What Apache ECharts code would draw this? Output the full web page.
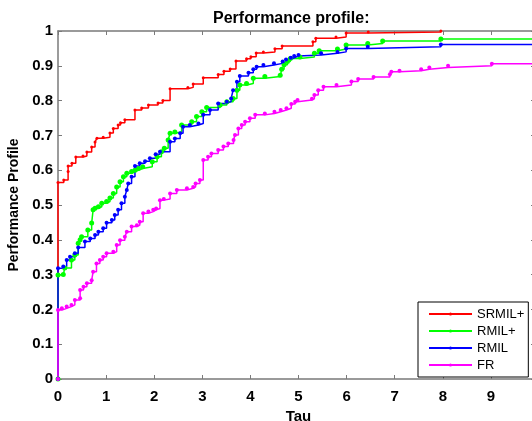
<!DOCTYPE html>
<html>
<head>
<meta charset="utf-8">
<script src="https://cdn.jsdelivr.net/npm/echarts@6/dist/echarts.min.js"></script>
<style>html,body{margin:0;padding:0;background:#fff}#c{width:532px;height:421px}</style>
</head>
<body>
<div id="c"></div>
<script>
const seriesNames = ['SRMIL+', 'RMIL+', 'RMIL', 'FR'];
const xTicks = [0, 1, 2, 3, 4, 5, 6, 7, 8, 9];
const yTicks = [0, 0.1, 0.2, 0.3, 0.4, 0.5, 0.6, 0.7, 0.8, 0.9, 1];

const srmilPlus = [[0,0],[0,0.565],[0.12,0.572],[0.21,0.596],[0.21,0.612],[0.29,0.62],[0.37,0.638],[0.52,0.641],[0.6,0.652],[0.7,0.667],[0.77,0.681],[0.81,0.692],[0.94,0.695],[1.08,0.707],[1.15,0.72],[1.25,0.73],[1.3,0.736],[1.39,0.745],[1.6,0.773],[1.74,0.779],[1.88,0.787],[2.08,0.793],[2.18,0.8],[2.33,0.834],[2.7,0.838],[2.81,0.848],[3.02,0.866],[3.33,0.875],[3.45,0.884],[3.58,0.891],[3.7,0.914],[3.92,0.92],[4.01,0.926],[4.12,0.937],[4.27,0.94],[4.51,0.949],[4.66,0.957],[5.3,0.969],[5.36,0.979],[5.78,0.983],[5.99,0.994],[6.45,0.997],[7.96,1.0]];

const rmilPlus = [[0,0],[0,0.299],[0.11,0.3],[0.14,0.319],[0.28,0.342],[0.35,0.356],[0.42,0.39],[0.46,0.4],[0.49,0.409],[0.62,0.428],[0.7,0.448],[0.73,0.486],[0.77,0.491],[0.84,0.495],[0.91,0.505],[1.01,0.51],[1.08,0.52],[1.15,0.533],[1.22,0.552],[1.29,0.567],[1.36,0.581],[1.43,0.591],[1.53,0.596],[1.6,0.6],[1.67,0.605],[1.76,0.61],[1.96,0.624],[2.06,0.639],[2.15,0.653],[2.21,0.663],[2.29,0.687],[2.33,0.706],[2.43,0.71],[2.57,0.73],[2.78,0.739],[2.88,0.754],[2.99,0.768],[3.09,0.78],[3.37,0.787],[3.51,0.797],[3.64,0.806],[3.72,0.83],[3.78,0.845],[3.92,0.849],[4.06,0.864],[4.3,0.869],[4.62,0.873],[4.65,0.89],[4.7,0.903],[4.77,0.912],[4.83,0.921],[5.03,0.925],[5.33,0.936],[5.43,0.943],[5.81,0.948],[5.99,0.96],[6.44,0.964],[6.75,0.971],[7.96,0.977],[10,0.977]];

const rmil = [[0,0],[0,0.318],[0.11,0.323],[0.18,0.342],[0.25,0.351],[0.35,0.361],[0.42,0.378],[0.56,0.395],[0.67,0.404],[0.77,0.414],[0.84,0.423],[0.94,0.433],[1.01,0.449],[1.12,0.457],[1.18,0.471],[1.25,0.486],[1.32,0.505],[1.39,0.524],[1.43,0.543],[1.46,0.562],[1.53,0.581],[1.6,0.612],[1.7,0.62],[1.81,0.626],[1.91,0.634],[2.03,0.646],[2.12,0.653],[2.33,0.682],[2.43,0.691],[2.54,0.706],[2.6,0.725],[2.74,0.73],[2.92,0.734],[3.02,0.759],[3.16,0.773],[3.33,0.792],[3.51,0.797],[3.6,0.806],[3.64,0.83],[3.72,0.854],[3.78,0.871],[3.96,0.88],[4.06,0.89],[4.13,0.897],[4.27,0.902],[4.49,0.907],[4.67,0.912],[4.74,0.918],[4.84,0.923],[4.91,0.928],[5.0,0.931],[5.47,0.936],[5.81,0.94],[5.99,0.95],[6.44,0.955],[7.96,0.961],[10,0.961]];

const fr = [[0,0],[0,0.198],[0.08,0.203],[0.18,0.208],[0.28,0.213],[0.35,0.227],[0.46,0.232],[0.46,0.256],[0.53,0.265],[0.6,0.275],[0.7,0.284],[0.73,0.308],[0.8,0.332],[0.87,0.342],[0.94,0.351],[1.01,0.361],[1.15,0.366],[1.22,0.385],[1.29,0.399],[1.39,0.409],[1.43,0.423],[1.53,0.438],[1.64,0.442],[1.7,0.452],[1.77,0.476],[1.88,0.481],[1.98,0.486],[2.04,0.49],[2.12,0.514],[2.2,0.517],[2.33,0.533],[2.47,0.543],[2.68,0.548],[2.81,0.552],[2.86,0.562],[2.95,0.572],[3.02,0.629],[3.12,0.639],[3.19,0.648],[3.33,0.658],[3.44,0.668],[3.54,0.677],[3.65,0.687],[3.68,0.701],[3.75,0.72],[3.82,0.73],[3.89,0.739],[3.99,0.749],[4.1,0.759],[4.3,0.763],[4.5,0.768],[4.63,0.773],[4.75,0.778],[4.85,0.79],[4.93,0.797],[4.98,0.802],[5.28,0.805],[5.33,0.816],[5.41,0.83],[5.52,0.84],[5.79,0.845],[6.1,0.855],[6.24,0.862],[6.56,0.868],[6.9,0.876],[6.93,0.883],[7.1,0.886],[7.55,0.89],[7.72,0.895],[8.11,0.9],[9.02,0.906],[10,0.907]];

const seriesData = [srmilPlus, rmilPlus, rmil, fr];
const colors = ['#ff0000', '#00ff00', '#0000ff', '#ff00ff'];
const symbolSizes = [3, 5, 4, 4];

const axisGray = '#7a7a7a';
const labelStyle = { color: '#000', fontFamily: 'Liberation Sans', fontWeight: 'bold', fontSize: 15 };

const chart = echarts.init(document.getElementById('c'), null, { renderer: 'canvas' });
chart.setOption({
  animation: false,
  backgroundColor: '#fff',
  title: {
    text: 'Performance profile:',
    left: 213, top: 11, padding: 0,
    textStyle: { color: '#000', fontFamily: 'Liberation Sans', fontWeight: 'bold', fontSize: 16 }
  },
  grid: { left: 58, top: 31, width: 481, height: 348, containLabel: false, outerBoundsMode: 'none' },
  legend: {
    data: seriesNames,
    orient: 'vertical',
    left: 418, top: 302,
    padding: [5, 4, 5, 10],
    itemWidth: 43, itemHeight: 4, itemGap: 3,
    borderColor: '#000', borderWidth: 1, backgroundColor: '#fff',
    textStyle: { color: '#000', fontFamily: 'Liberation Sans', fontSize: 13, lineHeight: 14 }
  },
  xAxis: [{
    type: 'value', min: 0, max: 10, interval: 1, position: 'bottom',
    name: 'Tau', nameLocation: 'middle', nameGap: 28,
    nameTextStyle: { color: '#000', fontFamily: 'Liberation Sans', fontWeight: 'bold', fontSize: 15 },
    axisLine: { show: true, onZero: false, lineStyle: { color: axisGray, width: 1.5 } },
    axisTick: { show: true, inside: true, length: 4, lineStyle: { color: axisGray } },
    axisLabel: Object.assign({ margin: 10, formatter: v => (xTicks.indexOf(v) >= 0 ? String(v) : '') }, labelStyle),
    splitLine: { show: false }
  }, {
    type: 'value', min: 0, max: 10, interval: 1, position: 'top',
    axisLine: { show: true, onZero: false, lineStyle: { color: axisGray, width: 1.5 } },
    axisTick: { show: true, inside: true, length: 4, lineStyle: { color: axisGray } },
    axisLabel: { show: false }, splitLine: { show: false }
  }],
  yAxis: [{
    type: 'value', min: 0, max: 1, interval: 0.1, position: 'left',
    name: 'Performance Profile', nameLocation: 'middle', nameGap: 35, nameRotate: 90,
    nameTextStyle: { color: '#000', fontFamily: 'Liberation Sans', fontWeight: 'bold', fontSize: 14 },
    axisLine: { show: true, onZero: false, lineStyle: { color: axisGray, width: 1.5 } },
    axisTick: { show: true, inside: true, length: 4, lineStyle: { color: axisGray } },
    axisLabel: Object.assign({ margin: 5, formatter: v => { const r = Math.round(v * 10) / 10; return yTicks.indexOf(r) >= 0 ? String(r) : ''; } }, labelStyle),
    splitLine: { show: false }
  }, {
    type: 'value', min: 0, max: 1, interval: 0.1, position: 'right',
    axisLine: { show: true, onZero: false, lineStyle: { color: axisGray, width: 1.5 } },
    axisTick: { show: true, inside: true, length: 8, lineStyle: { color: axisGray } },
    axisLabel: { show: false }, splitLine: { show: false }
  }],
  series: seriesNames.map((n, i) => ({
    name: n, type: 'line', step: 'end',
    xAxisIndex: 0, yAxisIndex: 0,
    data: seriesData[i],
    color: colors[i],
    lineStyle: { color: colors[i], width: 1.5 },
    itemStyle: { color: colors[i] },
    symbol: 'circle', symbolSize: symbolSizes[i], showSymbol: true,
    clip: true
  }))
});
</script>
</body>
</html>
